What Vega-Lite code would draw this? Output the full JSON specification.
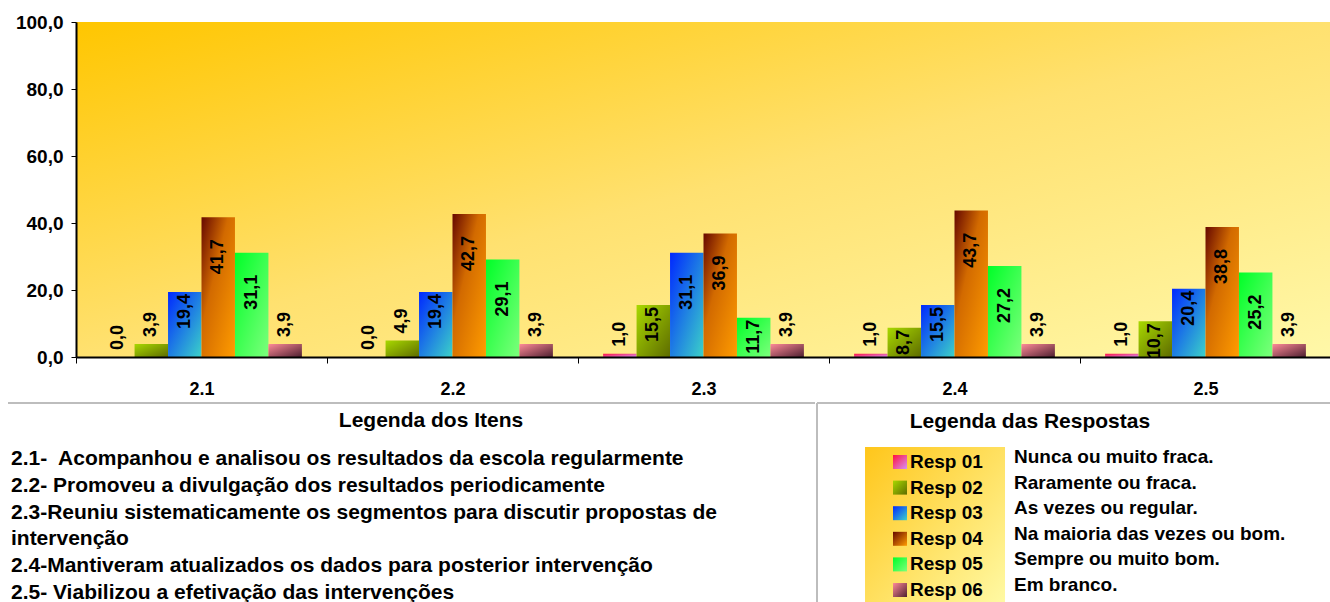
{
  "$schema": "https://vega.github.io/schema/vega-lite/v6.json",
  "padding": {"left": 7, "top": 13, "right": 0, "bottom": 0},
  "spacing": 4,
  "align": "none",
  "config": {
    "view": {"stroke": null},
    "font": "Liberation Sans",
    "locale": {"number": {"decimal": ",", "thousands": ".", "grouping": [3], "currency": ["R$", ""]}}
  },
  "vconcat": [
    {
      "width": 1255,
      "height": 335,
      "data": {"values": [
        {"item": "2.1", "resp": "Resp 01", "value": 0.0},
        {"item": "2.1", "resp": "Resp 02", "value": 3.9},
        {"item": "2.1", "resp": "Resp 03", "value": 19.4},
        {"item": "2.1", "resp": "Resp 04", "value": 41.7},
        {"item": "2.1", "resp": "Resp 05", "value": 31.1},
        {"item": "2.1", "resp": "Resp 06", "value": 3.9},
        {"item": "2.2", "resp": "Resp 01", "value": 0.0},
        {"item": "2.2", "resp": "Resp 02", "value": 4.9},
        {"item": "2.2", "resp": "Resp 03", "value": 19.4},
        {"item": "2.2", "resp": "Resp 04", "value": 42.7},
        {"item": "2.2", "resp": "Resp 05", "value": 29.1},
        {"item": "2.2", "resp": "Resp 06", "value": 3.9},
        {"item": "2.3", "resp": "Resp 01", "value": 1.0},
        {"item": "2.3", "resp": "Resp 02", "value": 15.5},
        {"item": "2.3", "resp": "Resp 03", "value": 31.1},
        {"item": "2.3", "resp": "Resp 04", "value": 36.9},
        {"item": "2.3", "resp": "Resp 05", "value": 11.7},
        {"item": "2.3", "resp": "Resp 06", "value": 3.9},
        {"item": "2.4", "resp": "Resp 01", "value": 1.0},
        {"item": "2.4", "resp": "Resp 02", "value": 8.7},
        {"item": "2.4", "resp": "Resp 03", "value": 15.5},
        {"item": "2.4", "resp": "Resp 04", "value": 43.7},
        {"item": "2.4", "resp": "Resp 05", "value": 27.2},
        {"item": "2.4", "resp": "Resp 06", "value": 3.9},
        {"item": "2.5", "resp": "Resp 01", "value": 1.0},
        {"item": "2.5", "resp": "Resp 02", "value": 10.7},
        {"item": "2.5", "resp": "Resp 03", "value": 20.4},
        {"item": "2.5", "resp": "Resp 04", "value": 38.8},
        {"item": "2.5", "resp": "Resp 05", "value": 25.2},
        {"item": "2.5", "resp": "Resp 06", "value": 3.9}
      ]},
      "layer": [
        {
          "data": {"values": [{}]},
          "mark": {"type": "rect", "color": {"gradient": "linear", "x1": 0, "y1": 0, "x2": 1, "y2": 1, "stops": [{"offset": 0, "color": "#FFC600"}, {"offset": 0.5, "color": "#FFE170"}, {"offset": 1, "color": "#FFF8A8"}]}},
          "encoding": {
            "y": {"datum": 0, "type": "quantitative", "scale": {"domain": [0, 100]}},
            "y2": {"datum": 100}
          }
        },
        {
          "mark": {"type": "bar"},
          "encoding": {
            "x": {"field": "item", "type": "nominal", "scale": {"paddingInner": 0, "paddingOuter": 0},
              "axis": {"title": null, "labelAngle": 0, "labelFontSize": 18, "labelFontWeight": "bold", "labelColor": "#000000", "tickBand": "extent", "tickSize": 6, "tickColor": "#000000", "domainColor": "#000000", "domainWidth": 2, "labelPadding": 17, "zindex": 2}},
            "xOffset": {"field": "resp", "type": "nominal", "scale": {"domain": ["Resp 01", "Resp 02", "Resp 03", "Resp 04", "Resp 05", "Resp 06"], "paddingInner": 0, "paddingOuter": 0.75}},
            "y": {"field": "value", "type": "quantitative", "scale": {"domain": [0, 100]},
              "axis": {"title": null, "values": [0, 20, 40, 60, 80, 100], "format": ".1f", "grid": false, "labelFontSize": 19, "labelFontWeight": "bold", "labelColor": "#000000", "tickSize": 5, "tickColor": "#000000", "domainColor": "#000000", "domainWidth": 2, "labelPadding": 8, "zindex": 2}},
            "color": {
              "condition": [
                {"test": "datum.resp === 'Resp 01'", "value": {"gradient": "linear", "x1": 0, "y1": 0, "x2": 1, "y2": 1, "stops": [{"offset": 0, "color": "#FF1040"}, {"offset": 1, "color": "#D890F5"}]}},
                {"test": "datum.resp === 'Resp 02'", "value": {"gradient": "linear", "x1": 0, "y1": 0, "x2": 1, "y2": 1, "stops": [{"offset": 0, "color": "#A8D800"}, {"offset": 1, "color": "#5E6C00"}]}},
                {"test": "datum.resp === 'Resp 03'", "value": {"gradient": "linear", "x1": 0, "y1": 0, "x2": 1, "y2": 1, "stops": [{"offset": 0, "color": "#0028FF"}, {"offset": 1, "color": "#3CD2C8"}]}},
                {"test": "datum.resp === 'Resp 04'", "value": {"gradient": "linear", "x1": 0, "y1": 0, "x2": 1, "y2": 1, "stops": [{"offset": 0, "color": "#660800"}, {"offset": 0.4, "color": "#D26A00"}, {"offset": 1, "color": "#FF9C00"}]}},
                {"test": "datum.resp === 'Resp 05'", "value": {"gradient": "linear", "x1": 0, "y1": 0, "x2": 1, "y2": 1, "stops": [{"offset": 0, "color": "#00FF28"}, {"offset": 1, "color": "#7CFF7C"}]}}
              ],
              "value": {"gradient": "linear", "x1": 0, "y1": 0, "x2": 1, "y2": 1, "stops": [{"offset": 0, "color": "#FF8A98"}, {"offset": 1, "color": "#4E2030"}]}
            }
          }
        },
        {
          "transform": [{"filter": "datum.value >= 22"}],
          "mark": {"type": "text", "angle": 270, "align": "right", "baseline": "middle", "dx": -22, "fontSize": 18, "fontWeight": "bold", "color": "#000000"},
          "encoding": {
            "x": {"field": "item", "type": "nominal"},
            "xOffset": {"field": "resp", "type": "nominal"},
            "y": {"field": "value", "type": "quantitative"},
            "text": {"field": "value", "type": "quantitative", "format": ".1f"}
          }
        },
        {
          "transform": [{"filter": "datum.value >= 8 && datum.value < 22"}],
          "mark": {"type": "text", "angle": 270, "align": "right", "baseline": "middle", "dx": -2, "fontSize": 18, "fontWeight": "bold", "color": "#000000"},
          "encoding": {
            "x": {"field": "item", "type": "nominal"},
            "xOffset": {"field": "resp", "type": "nominal"},
            "y": {"field": "value", "type": "quantitative"},
            "text": {"field": "value", "type": "quantitative", "format": ".1f"}
          }
        },
        {
          "transform": [{"filter": "datum.value < 8"}],
          "mark": {"type": "text", "angle": 270, "align": "left", "baseline": "middle", "dx": 7, "fontSize": 18, "fontWeight": "bold", "color": "#000000"},
          "encoding": {
            "x": {"field": "item", "type": "nominal"},
            "xOffset": {"field": "resp", "type": "nominal"},
            "y": {"field": "value", "type": "quantitative"},
            "text": {"field": "value", "type": "quantitative", "format": ".1f"}
          }
        }
      ]
    },
    {
      "spacing": 0,
      "hconcat": [
        {
          "width": 739,
          "height": 210,
          "layer": [
            {
              "data": {"values": [{}]},
              "mark": {"type": "rule", "color": "#BDBDBD", "strokeWidth": 2},
              "encoding": {
                "x": {"datum": -0.092, "type": "quantitative", "scale": {"domain": [0, 1]}, "axis": null},
                "x2": {"datum": 1},
                "y": {"datum": -1.09, "type": "quantitative", "scale": {"domain": [-1.09, 6.746], "reverse": true}, "axis": null}
              }
            },
            {
              "data": {"values": [{"t": "Legenda dos Itens"}]},
              "mark": {"type": "text", "align": "center", "baseline": "middle", "fontSize": 21, "fontWeight": "bold", "color": "#000000"},
              "encoding": {
                "x": {"datum": 0.4804, "type": "quantitative", "scale": {"domain": [0, 1]}, "axis": null},
                "y": {"datum": -0.40, "type": "quantitative", "scale": {"domain": [-1.09, 6.746], "reverse": true}, "axis": null},
                "text": {"field": "t"}
              }
            },
            {
              "data": {"values": [
                {"linha": 1, "texto": "2.1-\u00a0 Acompanhou e analisou os resultados da escola regularmente"},
                {"linha": 2, "texto": "2.2- Promoveu a divulgação dos resultados periodicamente"},
                {"linha": 3, "texto": "2.3-Reuniu sistematicamente os segmentos para discutir propostas de"},
                {"linha": 4, "texto": "intervenção"},
                {"linha": 5, "texto": "2.4-Mantiveram atualizados os dados para posterior intervenção"},
                {"linha": 6, "texto": "2.5- Viabilizou a efetivação das intervenções"}
              ]},
              "mark": {"type": "text", "align": "left", "baseline": "middle", "fontSize": 21, "fontWeight": "bold", "color": "#000000"},
              "encoding": {
                "x": {"datum": -0.088, "type": "quantitative", "scale": {"domain": [0, 1]}, "axis": null},
                "y": {"field": "linha", "type": "quantitative", "scale": {"domain": [-1.09, 6.746], "reverse": true}, "axis": null},
                "text": {"field": "texto"}
              }
            }
          ]
        },
        {
          "width": 513,
          "height": 210,
          "layer": [
            {
              "data": {"values": [{}]},
              "mark": {"type": "rule", "color": "#BDBDBD", "strokeWidth": 2},
              "encoding": {
                "y": {"datum": -1.305, "type": "quantitative", "scale": {"domain": [-1.305, 6.898], "reverse": true}, "axis": null}
              }
            },
            {
              "data": {"values": [{}]},
              "mark": {"type": "rule", "color": "#BDBDBD", "strokeWidth": 2},
              "encoding": {
                "x": {"datum": 0, "type": "quantitative", "scale": {"domain": [0, 1]}, "axis": null}
              }
            },
            {
              "data": {"values": [{"t": "Legenda das Respostas"}]},
              "mark": {"type": "text", "align": "center", "baseline": "middle", "fontSize": 21, "fontWeight": "bold", "color": "#000000"},
              "encoding": {
                "x": {"datum": 0.415, "type": "quantitative", "scale": {"domain": [0, 1]}, "axis": null},
                "y": {"datum": -0.56, "type": "quantitative", "scale": {"domain": [-1.305, 6.898], "reverse": true}, "axis": null},
                "text": {"field": "t"}
              }
            },
            {
              "data": {"values": [{}]},
              "mark": {"type": "rect", "color": {"gradient": "linear", "x1": 0, "y1": 0, "x2": 1, "y2": 1, "stops": [{"offset": 0, "color": "#FFC61A"}, {"offset": 1, "color": "#FFFBA8"}]}},
              "encoding": {
                "x": {"datum": 0.0936, "type": "quantitative", "scale": {"domain": [0, 1]}, "axis": null},
                "x2": {"datum": 0.3665},
                "y": {"datum": 0.414, "type": "quantitative", "scale": {"domain": [-1.305, 6.898], "reverse": true}, "axis": null},
                "y2": {"datum": 6.898}
              }
            },
            {
              "data": {"name": "resp"},
              "mark": {"type": "square", "size": 196, "filled": true, "opacity": 1},
              "encoding": {
                "x": {"datum": 0.1618, "type": "quantitative", "scale": {"domain": [0, 1]}, "axis": null},
                "y": {"field": "n", "type": "quantitative", "scale": {"domain": [-1.305, 6.898], "reverse": true}, "axis": null},
                "color": {
                  "condition": [
                    {"test": "datum.resp === 'Resp 01'", "value": {"gradient": "linear", "x1": 0, "y1": 0, "x2": 1, "y2": 1, "stops": [{"offset": 0, "color": "#FF1040"}, {"offset": 1, "color": "#D890F5"}]}},
                    {"test": "datum.resp === 'Resp 02'", "value": {"gradient": "linear", "x1": 0, "y1": 0, "x2": 1, "y2": 1, "stops": [{"offset": 0, "color": "#A8D800"}, {"offset": 1, "color": "#5E6C00"}]}},
                    {"test": "datum.resp === 'Resp 03'", "value": {"gradient": "linear", "x1": 0, "y1": 0, "x2": 1, "y2": 1, "stops": [{"offset": 0, "color": "#0028FF"}, {"offset": 1, "color": "#3CD2C8"}]}},
                    {"test": "datum.resp === 'Resp 04'", "value": {"gradient": "linear", "x1": 0, "y1": 0, "x2": 1, "y2": 1, "stops": [{"offset": 0, "color": "#660800"}, {"offset": 1, "color": "#FF9C00"}]}},
                    {"test": "datum.resp === 'Resp 05'", "value": {"gradient": "linear", "x1": 0, "y1": 0, "x2": 1, "y2": 1, "stops": [{"offset": 0, "color": "#00FF28"}, {"offset": 1, "color": "#7CFF7C"}]}}
                  ],
                  "value": {"gradient": "linear", "x1": 0, "y1": 0, "x2": 1, "y2": 1, "stops": [{"offset": 0, "color": "#FF8A98"}, {"offset": 1, "color": "#4E2030"}]}
                }
              }
            },
            {
              "data": {"name": "resp"},
              "mark": {"type": "text", "align": "left", "baseline": "middle", "fontSize": 19, "fontWeight": "bold", "color": "#000000"},
              "encoding": {
                "x": {"datum": 0.1813, "type": "quantitative", "scale": {"domain": [0, 1]}, "axis": null},
                "y": {"field": "n", "type": "quantitative", "scale": {"domain": [-1.305, 6.898], "reverse": true}, "axis": null},
                "text": {"field": "resp"}
              }
            },
            {
              "data": {"name": "resp"},
              "mark": {"type": "text", "align": "left", "baseline": "middle", "dy": -5, "fontSize": 19, "fontWeight": "bold", "color": "#000000"},
              "encoding": {
                "x": {"datum": 0.384, "type": "quantitative", "scale": {"domain": [0, 1]}, "axis": null},
                "y": {"field": "n", "type": "quantitative", "scale": {"domain": [-1.305, 6.898], "reverse": true}, "axis": null},
                "text": {"field": "desc"}
              }
            }
          ]
        }
      ]
    }
  ],
  "datasets": {
    "resp": [
      {"n": 1, "resp": "Resp 01", "desc": "Nunca ou muito fraca."},
      {"n": 2, "resp": "Resp 02", "desc": "Raramente ou fraca."},
      {"n": 3, "resp": "Resp 03", "desc": "As vezes ou regular."},
      {"n": 4, "resp": "Resp 04", "desc": "Na maioria das vezes ou bom."},
      {"n": 5, "resp": "Resp 05", "desc": "Sempre ou muito bom."},
      {"n": 6, "resp": "Resp 06", "desc": "Em branco."}
    ]
  }
}
